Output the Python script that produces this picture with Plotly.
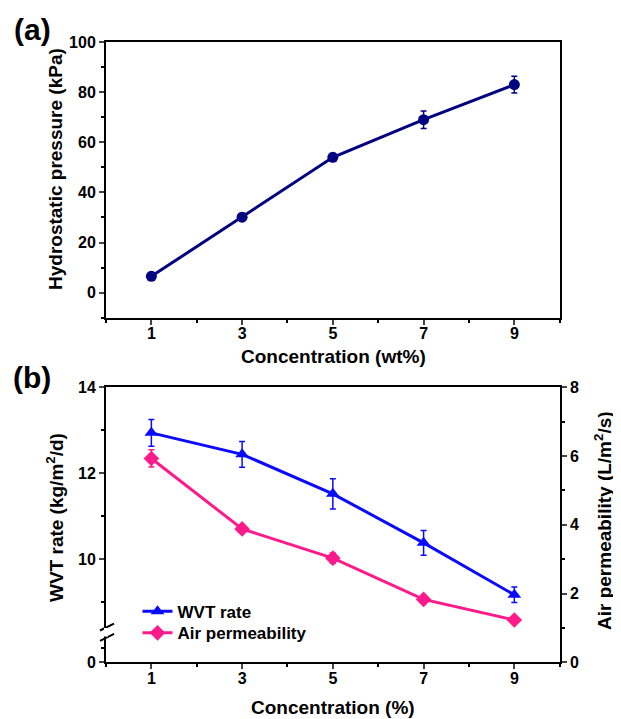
import plotly.graph_objects as go

# ---- data ----
conc = [1, 3, 5, 7, 9]
hydro = [6.5, 30.1, 54.0, 69.0, 83.0]
hydro_err = [1.5, 1.5, 1.5, 3.5, 3.3]

wvt = [12.94, 12.44, 11.52, 10.38, 9.17]
wvt_err = [0.31, 0.30, 0.35, 0.29, 0.18]
air = [5.93, 3.88, 3.03, 1.83, 1.23]
air_err = [0.25, 0.08, 0.15, 0.06, 0.05]

x_ticks = [1, 3, 5, 7, 9]
x_minor = [0, 2, 4, 6, 8, 10]
ya_ticks = [0, 20, 40, 60, 80, 100]
ya_minor = [-10, 10, 30, 50, 70, 90]
# broken left axis of panel (b): value shown as "0" at the bottom of the axis
yb_low, yb_break, yb_high = 7.6, 8.3, 14
yb_ticks = [yb_low, 10, 12, 14]
yb_ticktext = ["0", "10", "12", "14"]
yb_minor = [7.94, 9, 11, 13]
yr_ticks = [0, 2, 4, 6, 8]
yr_minor = [1, 3, 5, 7]

NAVY = "#000080"
BLUE = "#0a0aff"
PINK = "#ff1a8c"
FONT = "Liberation Sans, Arial, sans-serif"

W, H = 621, 719
OX, OY = 8, 8  # page offset of the figure


def px(x):
    return (x - OX) / W


def py(y):
    return 1 - (y - OY) / H


x0, x1 = px(106), px(559.7)
ya_dom = [py(317.7), py(42)]
yb_dom = [py(662.3), py(387.3)]

fig = go.Figure()

fig.add_trace(go.Scatter(
    x=conc, y=hydro, mode="lines+markers", xaxis="x", yaxis="y",
    line=dict(color=NAVY, width=3),
    marker=dict(symbol="circle", size=11, color=NAVY),
    error_y=dict(type="data", array=hydro_err, color=NAVY, thickness=1.5, width=3),
    showlegend=False))

fig.add_trace(go.Scatter(
    x=conc, y=wvt, mode="lines+markers", name="WVT rate", xaxis="x2", yaxis="y2",
    legend="legend",
    line=dict(color=BLUE, width=3),
    marker=dict(symbol="triangle-up", size=12, color=BLUE),
    error_y=dict(type="data", array=wvt_err, color=BLUE, thickness=1.5, width=3)))

fig.add_trace(go.Scatter(
    x=conc, y=air, mode="lines+markers", name="Air permeability", xaxis="x2", yaxis="y3",
    legend="legend2",
    line=dict(color=PINK, width=3),
    marker=dict(symbol="diamond", size=12, color=PINK),
    error_y=dict(type="data", array=air_err, color=PINK, thickness=1.5, width=3)))

tickfont = dict(family=FONT, size=16, color="black", weight="bold")
minor_common = dict(tickmode="array", ticks="outside", ticklen=3, tickwidth=2, tickcolor="black")


def xax(anchor):
    return dict(domain=[x0, x1], anchor=anchor, range=[0, 10], automargin=False,
                tickmode="array", tickvals=x_ticks, ticks="outside", ticklen=5,
                tickwidth=2, showline=True, linewidth=2, linecolor="black",
                mirror=True, showgrid=False, zeroline=False, tickfont=tickfont,
                ticklabelstandoff=-5,
                minor=dict(tickvals=x_minor, **minor_common))


legend_common = dict(xanchor="left", yanchor="top", bgcolor="rgba(0,0,0,0)",
                     borderwidth=0, itemwidth=30,
                     font=dict(family=FONT, size=17, color="black", weight="bold"))

fig.update_layout(
    template="none",
    width=W, height=H, margin=dict(l=0, r=0, t=0, b=0, autoexpand=False),
    paper_bgcolor="white", plot_bgcolor="white",
    xaxis=xax("y"),
    yaxis=dict(domain=ya_dom, anchor="x", range=[-10, 100], tickmode="array", automargin=False,
               tickvals=ya_ticks, ticks="outside", ticklen=5, tickwidth=2,
               showline=True, linewidth=2, linecolor="black", mirror=True,
               showgrid=False, zeroline=False, tickfont=tickfont,
               minor=dict(tickvals=ya_minor, **minor_common)),
    xaxis2=xax("y2"),
    yaxis2=dict(domain=yb_dom, anchor="x2", range=[yb_low, yb_high], tickmode="array", automargin=False,
                tickvals=yb_ticks, ticktext=yb_ticktext, ticks="outside", ticklen=5,
                tickwidth=2, showline=True, linewidth=2, linecolor="black",
                mirror=True, showgrid=False, zeroline=False, tickfont=tickfont,
                minor=dict(tickvals=yb_minor, **minor_common)),
    yaxis3=dict(overlaying="y2", anchor="x2", side="right", range=[0, 8], automargin=False,
                tickmode="array", tickvals=yr_ticks, ticks="outside", ticklen=5,
                tickwidth=2, showline=True, linewidth=2, linecolor="black",
                showgrid=False, zeroline=False, tickfont=tickfont,
                minor=dict(tickvals=yr_minor, **minor_common)),
    legend=dict(x=px(137.5), y=py(593.7), **legend_common),
    legend2=dict(x=px(137.5), y=py(615.3), **legend_common),
)

# axis break marks on left axis of panel (b)
for dy in (-0.12, 0.12):
    fig.add_shape(type="line", xref="paper", yref="y2",
                  x0=x0 - 6 / W, x1=x0 + 8 / W,
                  y0=yb_break + dy - 0.08, y1=yb_break + dy + 0.08,
                  line=dict(color="black", width=2))
fig.add_shape(type="rect", xref="paper", yref="y2",
              x0=x0 - 2 / W, x1=x0 + 2 / W, y0=yb_break - 0.1, y1=yb_break + 0.1,
              line=dict(width=0), fillcolor="white", layer="above")


def ann(text, x, y, size, angle=0):
    fig.add_annotation(text=text, x=px(x), y=py(y), xref="paper", yref="paper",
                       showarrow=False, textangle=angle, xanchor="center", yanchor="middle",
                       font=dict(family=FONT, size=size, color="black", weight="bold"))


ann("(a)", 32, 29, 30)
ann("(b)", 32, 377, 30)
ann("Concentration (wt%)", 333, 356, 19)
ann("Concentration (%)", 333, 707, 19)
ann("Hydrostatic pressure (kPa)", 55, 169, 19, -90)
ann("WVT rate (kg/m<sup>2</sup>/d)", 55, 518, 19, -90)
ann("Air permeability (L/m<sup>2</sup>/s)", 603, 521, 19, -90)

fig.write_html("out.html")
